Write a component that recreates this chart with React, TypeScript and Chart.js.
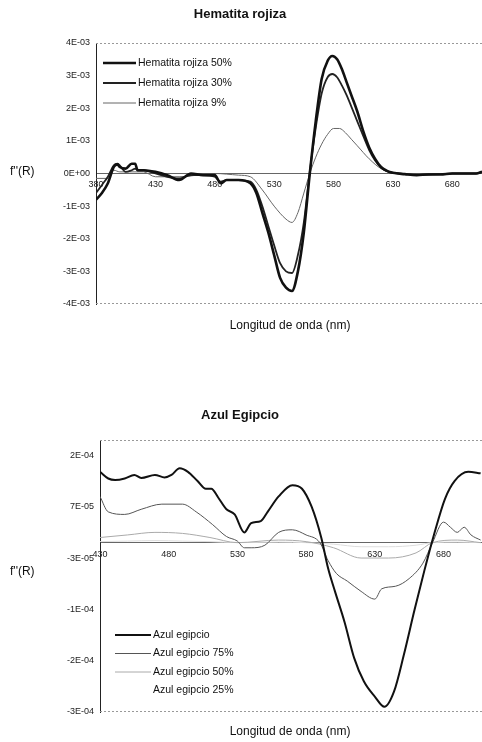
import React, { useEffect, useRef } from "react";
import { Chart, registerables } from "chart.js";
Chart.register(...registerables);

// ---------- Top chart data ----------
const hemX50 = [380,385,390,395,398,400,405,410,413,415,420,430,440,450,460,470,480,485,490,500,510,515,520,525,530,535,540,545,550,555,560,565,570,575,579,583,587,591,595,600,605,610,615,620,625,630,640,650,660,670,680,700,705];
const hem50 = [-0.8,-0.6,-0.3,0.2,0.28,0.2,0.15,0.3,0.3,0.1,0.1,0.05,-0.05,-0.2,0,-0.05,-0.05,-0.3,-0.2,-0.2,-0.3,-0.6,-1.2,-1.8,-2.5,-3.2,-3.5,-3.6,-3.0,-1.8,0,1.6,2.9,3.45,3.6,3.5,3.2,2.8,2.4,1.9,1.3,0.8,0.45,0.2,0.08,0.02,-0.02,-0.05,-0.03,-0.03,0,0,0.05];
const hem30 = [-0.6,-0.35,-0.1,0.25,0.3,0.25,0.05,0.1,0.15,0.1,0.1,0.0,-0.1,-0.15,-0.05,-0.05,-0.1,-0.25,-0.2,-0.2,-0.25,-0.5,-1.0,-1.6,-2.2,-2.75,-3.0,-3.05,-2.5,-1.5,0.05,1.4,2.45,2.95,3.05,2.95,2.7,2.4,2.05,1.6,1.15,0.72,0.4,0.18,0.07,0.02,-0.02,-0.04,-0.03,-0.02,0,0,0.05];
const hemX9 = [380,390,395,400,420,430,450,480,500,510,520,530,540,545,550,555,560,565,570,575,580,585,590,595,600,610,620,630,640,705];
const hem9 = [-0.15,-0.15,0.1,0.05,0.05,-0.1,-0.1,0,-0.05,-0.1,-0.5,-1.0,-1.4,-1.5,-1.2,-0.6,0,0.5,0.9,1.2,1.38,1.38,1.25,1.05,0.85,0.45,0.15,0.03,0,0];
const hemNames = ["Hematita rojiza 50%", "Hematita rojiza 30%", "Hematita rojiza 9%"];
const hemXTicks = [380,430,480,530,580,630,680];
const hemYTicks = [-4,-3,-2,-1,0,1,2,3,4];
const hemYLabels = ["-4E-03","-3E-03","-2E-03","-1E-03","0E+00","1E-03","2E-03","3E-03","4E-03"];

// ---------- Bottom chart data (units of 1E-04) ----------
const azX = [430,436,441,448,455,460,470,477,482,488,494,501,507,511,516,522,528,535,540,547,552,560,570,577,584,591,596,601,608,615,622,630,637,644,651,659,666,673,681,688,698,707];
const az100 = [1.38,1.25,1.22,1.25,1.32,1.26,1.32,1.27,1.32,1.45,1.38,1.2,1.05,1.05,0.88,0.65,0.55,0.2,0.38,0.42,0.6,0.9,1.12,1.05,0.7,0.1,-0.5,-0.95,-1.55,-2.25,-2.7,-3.0,-3.2,-2.9,-2.2,-1.3,-0.55,0.15,0.85,1.2,1.38,1.35];
const azX75 = [430,436,448,460,475,490,500,512,522,530,535,540,550,560,570,580,590,596,602,610,620,630,635,645,655,665,672,680,685,690,695,700,707];
const az75 = [0.9,0.6,0.55,0.65,0.75,0.75,0.6,0.35,0.12,0.03,-0.1,-0.1,-0.05,0.2,0.25,0.15,0.0,-0.35,-0.6,-0.75,-0.95,-1.1,-0.9,-0.85,-0.7,-0.4,0.0,0.4,0.3,0.2,0.3,0.15,0.05];
const azX50 = [430,450,470,490,510,530,560,580,600,620,640,660,672,690,707];
const az50 = [0.1,0.15,0.2,0.18,0.1,0.0,0.05,0.02,-0.1,-0.3,-0.3,-0.2,0.0,0.05,0.0];
const az25 = [0.02,0.03,0.04,0.03,0.02,0.0,0.01,0.0,-0.03,-0.08,-0.08,-0.05,0.0,0.01,0.0];
const azNames = ["Azul egipcio", "Azul egipcio 75%", "Azul egipcio 50%", "Azul egipcio 25%"];
const azXTicks = [430,480,530,580,630,680];
const azYTicks = [1.7,0.7,-0.3,-1.3,-2.3,-3.3];
const azYLabels = ["2E-04","7E-05","-3E-05","-1E-04","-2E-04","-3E-04"];

const FONT = "Arial, 'Liberation Sans', sans-serif";

function pts(xs: number[], ys: number[]) {
  return xs.map((x, i) => ({ x, y: ys[i] }));
}

function makeConfig(opts: any) {
  const { datasets, xMin, xMax, yMin, yMax, xTicks, yTicks, yLabels, pad, title, titleY, xTitleY, legend, legendBox, fy } = opts;
  const deco = {
    id: "deco",
    afterDraw(chart: any) {
      const c = chart.ctx;
      const a = chart.chartArea;
      c.save();
      c.strokeStyle = "#999";
      c.lineWidth = 1;
      c.setLineDash([2, 2]);
      c.beginPath();
      c.moveTo(a.left, a.top + 0.5); c.lineTo(a.right, a.top + 0.5);
      c.moveTo(a.left, a.bottom - 0.5); c.lineTo(a.right, a.bottom - 0.5);
      c.stroke();
      c.setLineDash([]);
      c.fillStyle = "#111";
      c.textAlign = "center";
      c.textBaseline = "middle";
      c.font = `bold 13px ${FONT}`;
      c.fillText(title, 240, titleY);
      c.font = `12px ${FONT}`;
      c.fillText("Longitud de onda (nm)", 290, xTitleY);
      c.textAlign = "left";
      c.fillText("f''(R)", 10, fy);
      if (legendBox) {
        c.fillStyle = "#fff";
        c.fillRect(legendBox[0], legendBox[1], legendBox[2], legendBox[3]);
      }
      c.font = `10.5px ${FONT}`;
      legend.items.forEach((it: any, i: number) => {
        const y = legend.y + i * legend.dy;
        if (it.width > 0) {
          c.strokeStyle = it.color;
          c.lineWidth = it.width;
          c.beginPath();
          c.moveTo(legend.x, y); c.lineTo(legend.x + legend.len, y);
          c.stroke();
        }
        c.fillStyle = "#111";
        c.textAlign = "left";
        c.fillText(it.name, legend.x + legend.len + 2, y);
      });
      c.restore();
    },
  };
  return {
    type: "line",
    data: { datasets },
    options: {
      animation: false,
      responsive: false,
      layout: { padding: pad },
      plugins: { legend: { display: false }, title: { display: false }, tooltip: { enabled: false } },
      elements: { point: { radius: 0 }, line: { cubicInterpolationMode: "monotone" } },
      scales: {
        x: {
          type: "linear",
          min: xMin, max: xMax,
          position: { y: 0 },
          grid: { display: false, drawTicks: false },
          border: { display: true, color: "#666", width: 1 },
          afterBuildTicks: (s: any) => { s.ticks = xTicks.map((v: number) => ({ value: v })); },
          ticks: { color: "#222", font: { family: FONT, size: 9 }, padding: 6, maxRotation: 0, autoSkip: false, callback: (v: any) => String(v) },
        },
        y: {
          type: "linear",
          min: yMin, max: yMax,
          grid: { display: false, drawTicks: false },
          border: { display: true, color: "#222", width: 1 },
          afterFit: (s: any) => { s.width = 50; },
          afterBuildTicks: (s: any) => { s.ticks = yTicks.map((v: number) => ({ value: v })); },
          ticks: {
            color: "#222", font: { family: FONT, size: 9 }, padding: 6, autoSkip: false,
            callback: (v: any) => { const i = yTicks.findIndex((t: number) => Math.abs(t - v) < 1e-6); return i >= 0 ? yLabels[i] : ""; },
          },
        },
      },
    },
    plugins: [deco],
  };
}

function ChartBox({ config, height }: { config: any; height: number }) {
  const ref = useRef<HTMLCanvasElement>(null);
  useEffect(() => {
    const ch = new Chart(ref.current as HTMLCanvasElement, config);
    return () => ch.destroy();
  }, []);
  return <canvas ref={ref} width={482} height={height} style={{ display: "block", width: 482, height }} />;
}

export default function App() {
  useEffect(() => { document.body.style.margin = "0"; }, []);
  const top = makeConfig({
    datasets: [
      { data: pts(hemX50, hem50), borderColor: "#111", borderWidth: 2.6 },
      { data: pts(hemX50, hem30), borderColor: "#222", borderWidth: 1.8 },
      { data: pts(hemX9, hem9), borderColor: "#666", borderWidth: 1 },
    ],
    xMin: 380, xMax: 705, yMin: -4, yMax: 4,
    xTicks: hemXTicks, yTicks: hemYTicks, yLabels: hemYLabels,
    pad: { left: 46, top: 43, bottom: 76, right: 0 },
    title: "Hematita rojiza", titleY: 14, xTitleY: 326, fy: 172,
    legend: { x: 103, y: 63, dy: 20, len: 33, items: [
      { name: hemNames[0], color: "#111", width: 2.6 },
      { name: hemNames[1], color: "#222", width: 1.8 },
      { name: hemNames[2], color: "#666", width: 1 },
    ] },
  });
  const bottom = makeConfig({
    datasets: [
      { data: pts(azX, az100), borderColor: "#111", borderWidth: 2 },
      { data: pts(azX75, az75), borderColor: "#555", borderWidth: 1 },
      { data: pts(azX50, az50), borderColor: "#aaa", borderWidth: 1 },
      { data: pts(azX50, az25), borderColor: "#ddd", borderWidth: 1 },
    ],
    xMin: 430, xMax: 708, yMin: -3.3, yMax: 2.0,
    xTicks: azXTicks, yTicks: azYTicks, yLabels: azYLabels,
    pad: { left: 50, top: 60, bottom: 30, right: 0 },
    title: "Azul Egipcio", titleY: 35, xTitleY: 352, fy: 192,
    legend: { x: 115, y: 255, dy: 18.5, len: 36, items: [
      { name: azNames[0], color: "#111", width: 2 },
      { name: azNames[1], color: "#555", width: 1 },
      { name: azNames[2], color: "#aaa", width: 1 },
      { name: azNames[3], color: "#fff", width: 0 },
    ] },
    legendBox: [112, 237, 140, 84],
  });
  return (
    <div style={{ width: 482, height: 742, background: "#fff" }}>
      <ChartBox config={top} height={380} />
      <ChartBox config={bottom} height={362} />
    </div>
  );
}
